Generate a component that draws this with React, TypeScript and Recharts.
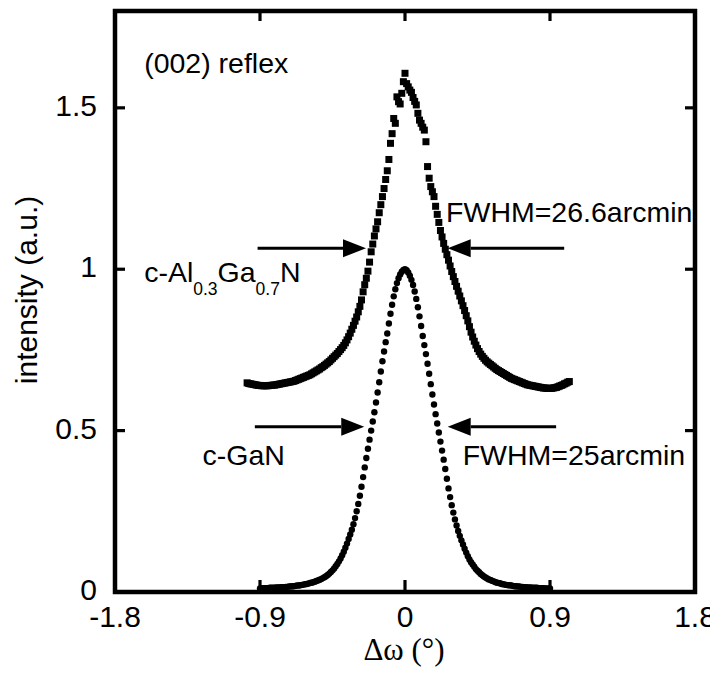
import {
  ScatterChart,
  Scatter,
  XAxis,
  YAxis,
  Label,
  ReferenceLine,
  ReferenceDot,
  ReferenceArea
} from "recharts";

// omega scan (deg) vs normalised intensity
const ganScan: [number, number][] = [
  [-0.90, 0.011], [-0.89, 0.012], [-0.88, 0.012], [-0.87, 0.012], [-0.86, 0.012], [-0.85, 0.012], [-0.84, 0.013], [-0.83, 0.013], [-0.82, 0.013], [-0.81, 0.013],
  [-0.80, 0.014], [-0.79, 0.014], [-0.78, 0.014], [-0.77, 0.015], [-0.76, 0.015], [-0.75, 0.015], [-0.74, 0.016], [-0.73, 0.016], [-0.72, 0.017], [-0.71, 0.017],
  [-0.70, 0.018], [-0.69, 0.018], [-0.68, 0.019], [-0.67, 0.020], [-0.66, 0.020], [-0.65, 0.021], [-0.64, 0.022], [-0.63, 0.023], [-0.62, 0.024], [-0.61, 0.025],
  [-0.60, 0.026], [-0.59, 0.028], [-0.58, 0.029], [-0.57, 0.030], [-0.56, 0.032], [-0.55, 0.034], [-0.54, 0.036], [-0.53, 0.038], [-0.52, 0.040], [-0.51, 0.043],
  [-0.50, 0.046], [-0.49, 0.049], [-0.48, 0.053], [-0.47, 0.057], [-0.46, 0.062], [-0.45, 0.067], [-0.44, 0.073], [-0.43, 0.080], [-0.42, 0.087], [-0.41, 0.095],
  [-0.40, 0.104], [-0.39, 0.114], [-0.38, 0.125], [-0.37, 0.137], [-0.36, 0.150], [-0.35, 0.164], [-0.34, 0.178], [-0.33, 0.193], [-0.32, 0.210], [-0.31, 0.229],
  [-0.30, 0.250], [-0.29, 0.273], [-0.28, 0.298], [-0.27, 0.326], [-0.26, 0.356], [-0.25, 0.386], [-0.24, 0.415], [-0.23, 0.444], [-0.22, 0.472], [-0.21, 0.500],
  [-0.20, 0.528], [-0.19, 0.557], [-0.18, 0.587], [-0.17, 0.618], [-0.16, 0.650], [-0.15, 0.683], [-0.14, 0.715], [-0.13, 0.745], [-0.12, 0.774], [-0.11, 0.801],
  [-0.10, 0.832], [-0.09, 0.862], [-0.08, 0.890], [-0.07, 0.916], [-0.06, 0.938], [-0.05, 0.957], [-0.04, 0.972], [-0.03, 0.984], [-0.02, 0.992], [-0.01, 0.998],
  [0.00, 1.000],
  [0.01, 0.997], [0.02, 0.990], [0.03, 0.980], [0.04, 0.967], [0.05, 0.951], [0.06, 0.931], [0.07, 0.908], [0.08, 0.882], [0.09, 0.854], [0.10, 0.824],
  [0.11, 0.793], [0.12, 0.765], [0.13, 0.737], [0.14, 0.707], [0.15, 0.676], [0.16, 0.644], [0.17, 0.612], [0.18, 0.581], [0.19, 0.551], [0.20, 0.522],
  [0.21, 0.494], [0.22, 0.466], [0.23, 0.438], [0.24, 0.410], [0.25, 0.381], [0.26, 0.351], [0.27, 0.321], [0.28, 0.294], [0.29, 0.269], [0.30, 0.246],
  [0.31, 0.225], [0.32, 0.206], [0.33, 0.189], [0.34, 0.174], [0.35, 0.160], [0.36, 0.147], [0.37, 0.134], [0.38, 0.122], [0.39, 0.111], [0.40, 0.101],
  [0.41, 0.092], [0.42, 0.085], [0.43, 0.078], [0.44, 0.071], [0.45, 0.066], [0.46, 0.061], [0.47, 0.056], [0.48, 0.052], [0.49, 0.048], [0.50, 0.045],
  [0.51, 0.042], [0.52, 0.039], [0.53, 0.037], [0.54, 0.035], [0.55, 0.033], [0.56, 0.031], [0.57, 0.029], [0.58, 0.028], [0.59, 0.027], [0.60, 0.025],
  [0.61, 0.024], [0.62, 0.023], [0.63, 0.022], [0.64, 0.021], [0.65, 0.021], [0.66, 0.020], [0.67, 0.019], [0.68, 0.018], [0.69, 0.018], [0.70, 0.017],
  [0.71, 0.017], [0.72, 0.016], [0.73, 0.016], [0.74, 0.015], [0.75, 0.015], [0.76, 0.014], [0.77, 0.014], [0.78, 0.014], [0.79, 0.013], [0.80, 0.013],
  [0.81, 0.013], [0.82, 0.013], [0.83, 0.012], [0.84, 0.012], [0.85, 0.012], [0.86, 0.012], [0.87, 0.011], [0.88, 0.011], [0.89, 0.011], [0.90, 0.011]
];

const alganScan: [number, number][] = [
  [-0.98, 0.648], [-0.97, 0.646], [-0.96, 0.645], [-0.95, 0.644], [-0.94, 0.643], [-0.93, 0.642], [-0.92, 0.641], [-0.91, 0.640], [-0.90, 0.640], [-0.89, 0.639],
  [-0.88, 0.639], [-0.87, 0.639], [-0.86, 0.639], [-0.85, 0.639], [-0.84, 0.640], [-0.83, 0.640], [-0.82, 0.641], [-0.81, 0.641], [-0.80, 0.642], [-0.79, 0.643],
  [-0.78, 0.644], [-0.77, 0.645], [-0.76, 0.646], [-0.75, 0.647], [-0.74, 0.648], [-0.73, 0.649], [-0.72, 0.650], [-0.71, 0.651], [-0.70, 0.652], [-0.69, 0.653],
  [-0.68, 0.655], [-0.67, 0.657], [-0.66, 0.659], [-0.65, 0.661], [-0.64, 0.663], [-0.63, 0.665], [-0.62, 0.667], [-0.61, 0.669], [-0.60, 0.671], [-0.59, 0.673],
  [-0.58, 0.676], [-0.57, 0.679], [-0.56, 0.682], [-0.55, 0.685], [-0.54, 0.688], [-0.53, 0.691], [-0.52, 0.695], [-0.51, 0.698], [-0.50, 0.702], [-0.49, 0.706],
  [-0.48, 0.710], [-0.47, 0.714], [-0.46, 0.719], [-0.45, 0.724], [-0.44, 0.729], [-0.43, 0.734], [-0.42, 0.739], [-0.41, 0.745], [-0.40, 0.751], [-0.39, 0.757],
  [-0.38, 0.764], [-0.37, 0.772], [-0.36, 0.781], [-0.35, 0.791], [-0.34, 0.802], [-0.33, 0.814], [-0.32, 0.826], [-0.31, 0.839], [-0.30, 0.852], [-0.29, 0.868],
  [-0.28, 0.885], [-0.27, 0.905], [-0.26, 0.930], [-0.25, 0.952], [-0.24, 0.972], [-0.23, 0.994], [-0.22, 1.022], [-0.21, 1.054], [-0.20, 1.078], [-0.19, 1.103],
  [-0.18, 1.125], [-0.17, 1.147], [-0.16, 1.175], [-0.15, 1.200], [-0.14, 1.225], [-0.13, 1.250], [-0.12, 1.278], [-0.11, 1.305], [-0.10, 1.340], [-0.09, 1.390],
  [-0.08, 1.420], [-0.07, 1.467], [-0.06, 1.452], [-0.05, 1.534], [-0.04, 1.519], [-0.03, 1.512], [-0.02, 1.545], [-0.01, 1.581],
  [0.00, 1.607],
  [0.01, 1.575], [0.02, 1.565], [0.03, 1.555], [0.04, 1.548], [0.05, 1.532], [0.06, 1.520], [0.07, 1.509], [0.08, 1.483], [0.09, 1.462], [0.10, 1.452],
  [0.11, 1.440], [0.12, 1.431], [0.13, 1.395], [0.14, 1.318], [0.15, 1.282], [0.16, 1.256], [0.17, 1.240], [0.18, 1.225], [0.19, 1.195], [0.20, 1.170],
  [0.21, 1.145], [0.22, 1.120], [0.23, 1.100], [0.24, 1.080], [0.25, 1.062], [0.26, 1.045], [0.27, 1.028], [0.28, 1.010], [0.29, 0.993], [0.30, 0.977],
  [0.31, 0.962], [0.32, 0.947], [0.33, 0.932], [0.34, 0.917], [0.35, 0.902], [0.36, 0.887], [0.37, 0.872], [0.38, 0.856], [0.39, 0.840], [0.40, 0.822],
  [0.41, 0.805], [0.42, 0.790], [0.43, 0.777], [0.44, 0.765], [0.45, 0.754], [0.46, 0.745], [0.47, 0.737], [0.48, 0.730], [0.49, 0.724], [0.50, 0.718],
  [0.51, 0.713], [0.52, 0.709], [0.53, 0.705], [0.54, 0.701], [0.55, 0.697], [0.56, 0.693], [0.57, 0.689], [0.58, 0.686], [0.59, 0.683], [0.60, 0.680],
  [0.61, 0.677], [0.62, 0.674], [0.63, 0.671], [0.64, 0.668], [0.65, 0.665], [0.66, 0.662], [0.67, 0.660], [0.68, 0.658], [0.69, 0.656], [0.70, 0.654],
  [0.71, 0.652], [0.72, 0.650], [0.73, 0.648], [0.74, 0.646], [0.75, 0.644], [0.76, 0.642], [0.77, 0.641], [0.78, 0.640], [0.79, 0.639], [0.80, 0.638],
  [0.81, 0.637], [0.82, 0.636], [0.83, 0.635], [0.84, 0.634], [0.85, 0.633], [0.86, 0.632], [0.87, 0.632], [0.88, 0.631], [0.89, 0.631], [0.90, 0.631],
  [0.91, 0.631], [0.92, 0.632], [0.93, 0.633], [0.94, 0.634], [0.95, 0.636], [0.96, 0.638], [0.97, 0.640], [0.98, 0.642], [0.99, 0.645], [1.00, 0.647],
  [1.01, 0.650], [1.02, 0.652]
];

const xTicks = [-1.8, -0.9, 0, 0.9, 1.8];
const yTicks = [0, 0.5, 1, 1.5];
const xInnerTicks = [-0.9, 0, 0.9];
const yInnerTicks = [0.5, 1, 1.5];

// FWHM arrows: [fromX, fromY, toX, toY]
const fwhmArrows: [number, number, number, number][] = [
  [-0.915, 1.065, -0.242, 1.065],
  [0.988, 1.065, 0.265, 1.065],
  [-0.932, 0.512, -0.253, 0.512],
  [0.938, 0.512, 0.265, 0.512]
];

const ganData = ganScan.map(([x, y]) => ({ x, y }));
const alganData = alganScan.map(([x, y]) => ({ x, y }));

const sans = "'Liberation Sans', Arial, Helvetica, sans-serif";
const serif = "'Liberation Serif', 'Times New Roman', serif";
const textStyle = { fontFamily: sans, fontSize: 28.5, fill: "#000" };
const tickStyle = { fontFamily: sans, fontSize: 30, fill: "#000" };

const BottomTick = ({ x, y, payload }: any) => (
  <text x={x} y={y + 35} textAnchor="middle" style={tickStyle}>
    {String(payload.value)}
  </text>
);

const LeftTick = ({ x, y, payload }: any) => (
  <text x={x - 18} y={y + 8} textAnchor="end" style={tickStyle}>
    {String(payload.value)}
  </text>
);

// the plot frame, drawn through the axis scales
const Frame = (p: any) => (
  <rect x={p.x} y={p.y} width={p.width} height={p.height} fill="none" stroke="#000" strokeWidth={4.5} />
);

// inward ticks on both opposite sides of the frame
const XTickMark = (p: any) => {
  const top = Math.min(p.y1, p.y2);
  const bottom = Math.max(p.y1, p.y2);
  return (
    <g>
      <line x1={p.x1} y1={bottom} x2={p.x1} y2={bottom - 12} stroke="#000" strokeWidth={3.2} />
      <line x1={p.x1} y1={top} x2={p.x1} y2={top + 10} stroke="#000" strokeWidth={3.2} />
    </g>
  );
};

const YTickMark = (p: any) => {
  const left = Math.min(p.x1, p.x2);
  const right = Math.max(p.x1, p.x2);
  return (
    <g>
      <line x1={left} y1={p.y1} x2={left + 10} y2={p.y1} stroke="#000" strokeWidth={3.2} />
      <line x1={right} y1={p.y1} x2={right - 10} y2={p.y1} stroke="#000" strokeWidth={3.2} />
    </g>
  );
};

const Arrow = (p: any) => {
  const { x1, y1, x2, y2 } = p;
  const dir = Math.sign(x2 - x1);
  const baseX = x2 - dir * 23;
  return (
    <g>
      <line x1={x1} y1={y1} x2={baseX} y2={y2} stroke="#000" strokeWidth={3.2} />
      <polygon points={`${x2},${y2} ${baseX},${y2 - 9} ${baseX},${y2 + 9}`} fill="#000" />
    </g>
  );
};

const YTitle = () => (
  <text
    x={18}
    y={282}
    transform="rotate(-90 18 282)"
    textAnchor="middle"
    dominantBaseline="central"
    style={{ fontFamily: sans, fontSize: 30, fill: "#000" }}
  >
    intensity (a.u.)
  </text>
);

const XTitle = () => (
  <text x={396} y={652} textAnchor="middle" style={{ fontFamily: serif, fontSize: 31, fill: "#000" }}>
    Δω (°)
  </text>
);

const note = (content: any) => (p: any) => (
  <text x={p.cx} y={p.cy} style={textStyle}>{content}</text>
);

export default function App() {
  return (
    <ScatterChart width={710} height={670} margin={{ top: 3, right: 23, bottom: 0, left: 0 }}>
      <XAxis
        type="number"
        dataKey="x"
        domain={[-1.8, 1.8]}
        ticks={xTicks}
        interval={0}
        height={86}
        tickSize={0}
        tickMargin={0}
        tickLine={false}
        axisLine={false}
        tick={<BottomTick />}
      >
        <Label content={XTitle} />
      </XAxis>
      <YAxis
        type="number"
        dataKey="y"
        domain={[0, 1.8]}
        ticks={yTicks}
        interval={0}
        width={107}
        tickSize={0}
        tickMargin={0}
        tickLine={false}
        axisLine={false}
        tick={<LeftTick />}
      >
        <Label content={YTitle} />
      </YAxis>

      <ReferenceArea x1={-1.8} x2={1.8} y1={0} y2={1.8} ifOverflow="visible" shape={Frame} />
      {xInnerTicks.map((v) => (
        <ReferenceLine key={"x" + v} x={v} shape={XTickMark} />
      ))}
      {yInnerTicks.map((v) => (
        <ReferenceLine key={"y" + v} y={v} shape={YTickMark} />
      ))}

      {fwhmArrows.map(([fx, fy, tx, ty], i) => (
        <ReferenceLine
          key={i}
          segment={[{ x: fx, y: fy }, { x: tx, y: ty }]}
          shape={Arrow}
        />
      ))}

      <ReferenceDot x={-1.619} y={1.609} r={0} shape={note("(002) reflex")} />
      <ReferenceDot x={0.255} y={1.146} r={0} shape={note("FWHM=26.6arcmin")} />
      <ReferenceDot
        x={-1.619}
        y={0.96}
        r={0}
        shape={note(
          <>
            <tspan>c-Al</tspan>
            <tspan dy={13} fontSize={17.5}>0.3</tspan>
            <tspan dy={-13}>Ga</tspan>
            <tspan dy={13} fontSize={17.5}>0.7</tspan>
            <tspan dy={-13}>N</tspan>
          </>
        )}
      />
      <ReferenceDot x={-1.257} y={0.393} r={0} shape={note("c-GaN")} />
      <ReferenceDot x={0.358} y={0.393} r={0} shape={note("FWHM=25arcmin")} />

      <Scatter
        data={alganData}
        isAnimationActive={false}
        shape={(p: any) => <rect x={p.cx - 3.5} y={p.cy - 3.5} width={7} height={7} fill="#000" />}
      />
      <Scatter
        data={ganData}
        isAnimationActive={false}
        shape={(p: any) => <circle cx={p.cx} cy={p.cy} r={3.2} fill="#000" />}
      />
    </ScatterChart>
  );
}
